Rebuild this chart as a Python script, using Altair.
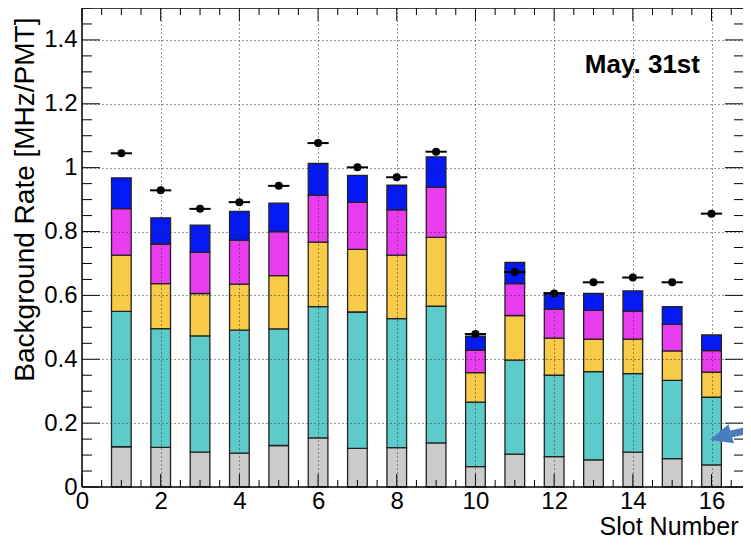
import altair as alt
import pandas as pd

slots = list(range(1, 17))
grey    = [0.126, 0.124, 0.109, 0.106, 0.130, 0.154, 0.121, 0.123, 0.138, 0.064, 0.103, 0.095, 0.085, 0.109, 0.089, 0.069]
cyan    = [0.424, 0.372, 0.364, 0.385, 0.365, 0.411, 0.427, 0.404, 0.428, 0.202, 0.294, 0.255, 0.276, 0.246, 0.245, 0.212]
yellow  = [0.176, 0.141, 0.133, 0.144, 0.167, 0.202, 0.196, 0.199, 0.216, 0.092, 0.140, 0.116, 0.102, 0.108, 0.092, 0.079]
magenta = [0.146, 0.124, 0.129, 0.138, 0.138, 0.146, 0.147, 0.142, 0.157, 0.071, 0.100, 0.091, 0.090, 0.088, 0.083, 0.067]
blue    = [0.096, 0.082, 0.085, 0.090, 0.089, 0.100, 0.085, 0.077, 0.095, 0.043, 0.066, 0.052, 0.053, 0.063, 0.056, 0.049]
measured = [1.045, 0.929, 0.871, 0.892, 0.943, 1.077, 1.001, 0.970, 1.050, 0.479, 0.673, 0.606, 0.641, 0.656, 0.641, 0.856]

components = ["grey", "cyan", "yellow", "magenta", "blue"]
comp_colors = ["#cbcbcb", "#5ecbcb", "#f7ca47", "#e93cef", "#0519f7"]
comp_values = [grey, cyan, yellow, magenta, blue]

x_ticks_major = [0, 2, 4, 6, 8, 10, 12, 14, 16]
y_ticks_major = [0, 0.2, 0.4, 0.6, 0.8, 1.0, 1.2, 1.4]
x_ticks_minor = [i * 0.5 for i in range(0, 34) if (i * 0.5) % 2 != 0]
y_ticks_minor = [round(i * 0.05, 2) for i in range(0, 31) if i % 4 != 0]

label_text = ["May. 31st"]
label_x = [12.78]
label_y = [1.297]

arrow_shaft_x = [16.49, 17.05]
arrow_shaft_y = [0.166, 0.181]
arrow_head_x = [16.23]
arrow_head_y = [0.157]

W, H = 661, 479
FONT = "Liberation Sans"

rows = []
for ci, (name, vals) in enumerate(zip(components, comp_values)):
    for s, v in zip(slots, vals):
        rows.append({"slot": s, "comp": name, "order": ci, "value": v})
bars_df = pd.DataFrame(rows)
pts_df = pd.DataFrame({"slot": slots, "rate": measured})

xs = alt.Scale(domain=[0, 16.8], nice=False, zero=False)
ys = alt.Scale(domain=[0, 1.5], nice=False, zero=False)

x_axis = alt.Axis(values=x_ticks_major, format="d", labelFontSize=24, labelFont=FONT,
                  labelColor="black", labelPadding=2, labelFlush=False,
                  ticks=False, domain=False, grid=True, gridDash=[1, 3], gridColor="#333",
                  gridWidth=1, title="Slot Number", titleFont=FONT, titleFontSize=25,
                  titleFontWeight="normal", titleColor="black", titleX=656, titleY=47,
                  titleAlign="right", titleBaseline="alphabetic", zindex=1)
y_axis = alt.Axis(values=y_ticks_major, format="~g", labelFontSize=24, labelFont=FONT,
                  labelColor="black", labelPadding=5,
                  ticks=False, domain=False, grid=True, gridDash=[1, 3], gridColor="#333",
                  gridWidth=1, title="Background Rate [MHz/PMT]", titleFont=FONT,
                  titleFontSize=28, titleFontWeight="normal", titleColor="black",
                  titleX=-49, titleY=9, titleAlign="right", titleBaseline="alphabetic",
                  titleAngle=270, zindex=1)


def X(field):
    return alt.X(field, scale=xs, axis=x_axis)


def Y(field):
    return alt.Y(field, scale=ys, axis=y_axis)


bars = alt.Chart(bars_df).transform_stack(
    stack="value", groupby=["slot"], as_=["y0", "y1"], sort=[alt.SortField("order")]
).transform_calculate(
    xa="datum.slot - 0.25", xb="datum.slot + 0.25"
).mark_rect(stroke="#222", strokeWidth=1.3).encode(
    x=X("xa:Q"),
    x2="xb:Q",
    y=Y("y0:Q"),
    y2="y1:Q",
    color=alt.Color("comp:N", scale=alt.Scale(domain=components, range=comp_colors), legend=None),
)

err = alt.Chart(pts_df).transform_calculate(
    xa="datum.slot - 0.27", xb="datum.slot + 0.27"
).mark_rule(color="black", strokeWidth=2).encode(
    x=X("xa:Q"), x2="xb:Q", y=Y("rate:Q"),
)
pts = alt.Chart(pts_df).mark_circle(color="black", size=64, opacity=1).encode(
    x=X("slot:Q"), y=Y("rate:Q"),
)


def tick_layer(vals, channel, start, end):
    df = pd.DataFrame({"v": vals})
    if channel == "x":
        return alt.Chart(df).mark_rule(color="black", strokeWidth=1).encode(
            x=X("v:Q"), y=alt.value(start), y2=alt.value(end))
    return alt.Chart(df).mark_rule(color="black", strokeWidth=1).encode(
        y=Y("v:Q"), x=alt.value(start), x2=alt.value(end))


ticks = [
    tick_layer(x_ticks_major, "x", H, H - 13),
    tick_layer(x_ticks_minor, "x", H, H - 7),
    tick_layer(x_ticks_major, "x", 0, 13),
    tick_layer(x_ticks_minor, "x", 0, 7),
    tick_layer(y_ticks_major, "y", 0, 18),
    tick_layer(y_ticks_minor, "y", 0, 10),
    tick_layer(y_ticks_major, "y", W, W - 18),
    tick_layer(y_ticks_minor, "y", W, W - 9),
]

# frame (left, top, bottom); the right side of the reference frame is cut off
frame_df = pd.DataFrame({"k": [0]})
frame = [
    alt.Chart(frame_df).mark_rule(color="black", strokeWidth=1.5).encode(
        x=alt.value(0), y=alt.value(0), y2=alt.value(H)),
    alt.Chart(frame_df).mark_rule(color="black", strokeWidth=1.5).encode(
        y=alt.value(0), x=alt.value(0), x2=alt.value(W)),
    alt.Chart(frame_df).mark_rule(color="black", strokeWidth=1.5).encode(
        y=alt.value(H), x=alt.value(0), x2=alt.value(W)),
]

label = alt.Chart(pd.DataFrame({"t": label_text, "x": label_x, "y": label_y})).mark_text(
    font=FONT, fontSize=26, fontWeight="bold", align="left", baseline="alphabetic", color="black"
).encode(x=X("x:Q"), y=Y("y:Q"), text="t:N")

shaft = alt.Chart(pd.DataFrame({"x": arrow_shaft_x, "y": arrow_shaft_y})).mark_line(
    color="#4a7dbc", strokeWidth=7, clip=True
).encode(x=X("x:Q"), y=Y("y:Q"))
head = alt.Chart(pd.DataFrame({"x": arrow_head_x, "y": arrow_head_y})).mark_point(
    shape="M-1,0L1,-0.9L1,0.9Z", filled=True, color="#4a7dbc", opacity=1, size=484, angle=344
).encode(x=X("x:Q"), y=Y("y:Q"))

chart = alt.layer(bars, err, pts, *ticks, *frame, label, shaft, head).properties(
    width=W, height=H,
    autosize=alt.AutoSizeParams(type="none"),
    padding={"left": 74, "top": 0, "right": 0, "bottom": 51},
).configure_view(stroke=None)

chart.save("out.html", embed_options={"renderer": "svg", "actions": False})
